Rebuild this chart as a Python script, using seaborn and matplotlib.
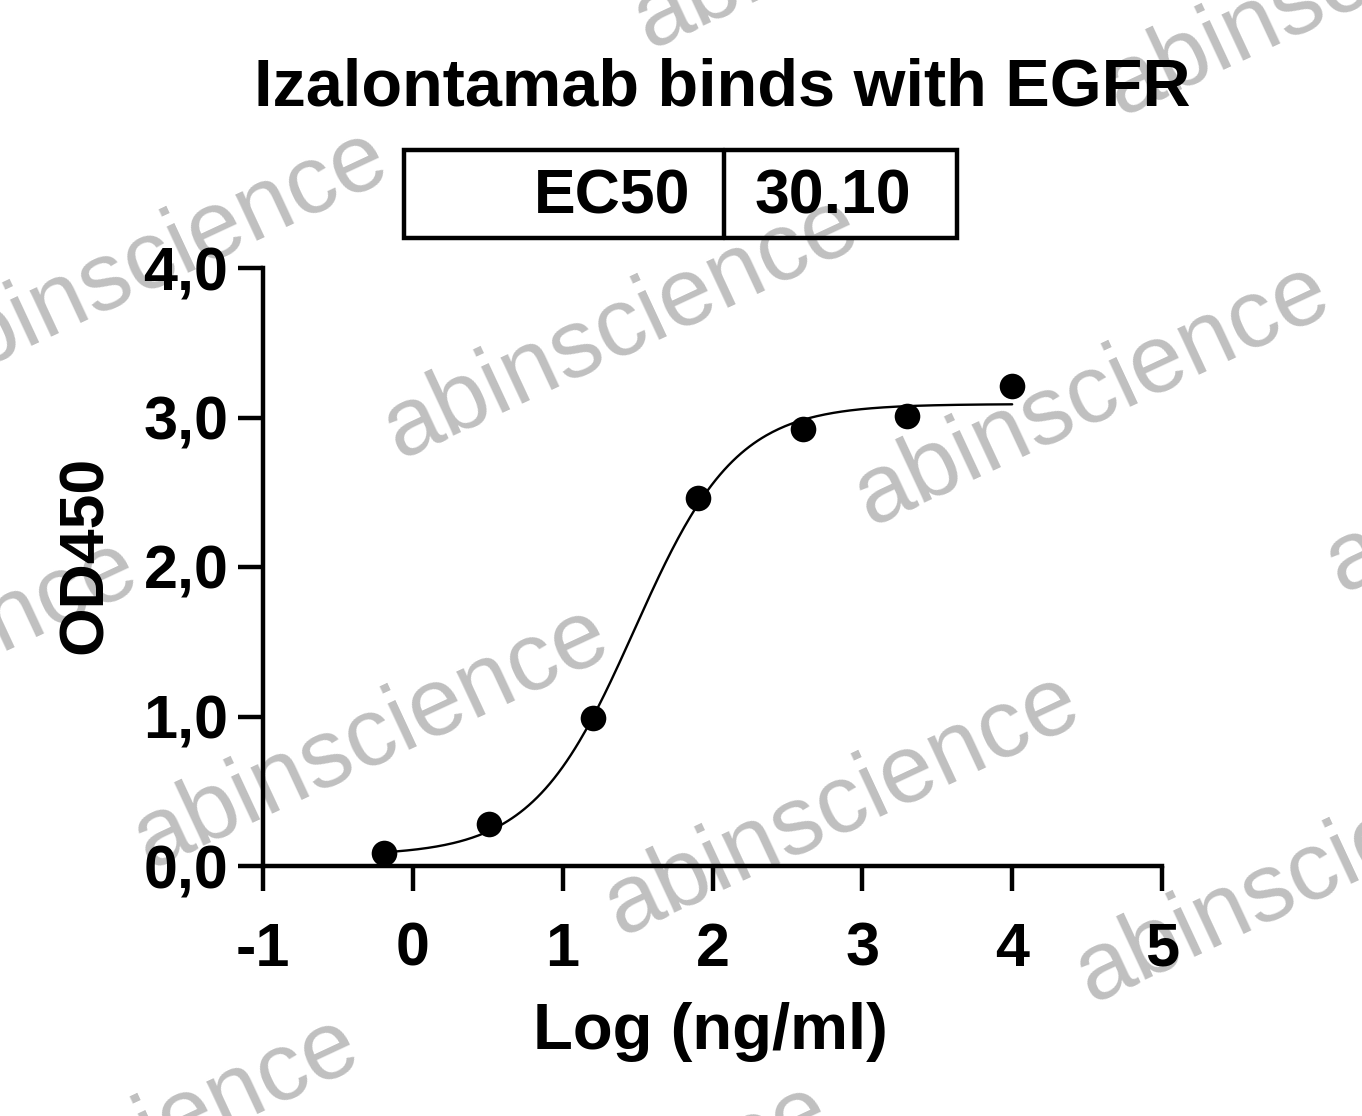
"""Courbe de liaison Izalontamab / EGFR (ELISA, OD450)."""

import numpy as np
import pandas as pd
import matplotlib

matplotlib.use("Agg")
import matplotlib.pyplot as plt
from matplotlib.lines import Line2D
from matplotlib.patches import Rectangle
from matplotlib.ticker import FuncFormatter, MultipleLocator
import seaborn as sns

# donnees
conc_ng_ml = [0.64, 3.2, 16, 80, 400, 2000, 10000]
od450 = [0.09, 0.28, 0.99, 2.46, 2.92, 3.01, 3.21]

# parametres du fit 4PL
ec50 = 30.10
fit_bottom = 0.07
fit_top = 3.09
fit_hill = 1.28

title = "Izalontamab binds with EGFR"
x_label = "Log (ng/ml)"
y_label = "OD450"
watermark = "abinscience"

W, H = 1362, 1116


def fx(x):
    return x / W


def fy(y):
    return 1 - y / H


def four_pl(logx):
    return fit_bottom + (fit_top - fit_bottom) / (1 + 10 ** ((np.log10(ec50) - logx) * fit_hill))


def main():
    sns.set_theme(style="ticks")
    plt.rcParams["font.family"] = ["Liberation Sans", "DejaVu Sans"]
    for key in ["text.color", "axes.labelcolor", "xtick.color", "ytick.color", "axes.edgecolor"]:
        plt.rcParams[key] = "black"

    points = pd.DataFrame({"logc": np.log10(conc_ng_ml), "od": od450})
    xs = np.linspace(points["logc"].min(), points["logc"].max(), 300)
    curve = pd.DataFrame({"logc": xs, "od": four_pl(xs)})

    fig = plt.figure(figsize=(W / 100, H / 100), dpi=100)
    fig.patch.set_facecolor("white")
    ax = fig.add_axes([fx(263), fy(866), 899 / W, 598 / H])
    ax.set_facecolor("white")

    sns.lineplot(data=curve, x="logc", y="od", ax=ax, color="black", linewidth=1.7)
    sns.scatterplot(data=points, x="logc", y="od", ax=ax, color="black", s=340,
                    edgecolor="black", linewidth=0, clip_on=False, zorder=5)

    ax.set_xlim(-1, 5)
    ax.set_ylim(0, 4)
    ax.xaxis.set_major_locator(MultipleLocator(1))
    ax.yaxis.set_major_locator(MultipleLocator(1))
    ax.yaxis.set_major_formatter(FuncFormatter(lambda v, _: f"{v:.1f}".replace(".", ",")))
    ax.xaxis.set_major_formatter(FuncFormatter(lambda v, _: f"{v:.0f}"))

    sns.despine(ax=ax)
    for side in ["left", "bottom"]:
        ax.spines[side].set_linewidth(3.2)
        ax.spines[side].set_color("black")
    ax.tick_params(axis="both", direction="out", length=18, width=3.2,
                   color="black", labelcolor="black")
    ax.tick_params(axis="y", pad=7, labelsize=44)
    ax.tick_params(axis="x", pad=22, labelsize=44)
    for lab in ax.get_xticklabels() + ax.get_yticklabels():
        lab.set_fontweight("bold")

    ax.set_xlabel(x_label, fontsize=47, fontweight="bold", color="black")
    ax.set_ylabel(y_label, fontsize=45, fontweight="bold", color="black")
    ax.xaxis.set_label_coords(0.498, -0.227)
    ax.yaxis.set_label_coords(-0.165, 0.52)

    fig.text(fx(722), fy(105), title, ha="center", va="baseline",
             fontsize=48, fontweight="bold", color="black")

    # petit tableau EC50
    fig.patches.append(Rectangle((fx(404), fy(238)), (957 - 404) / W, (238 - 150) / H,
                                 transform=fig.transFigure, fill=False,
                                 edgecolor="black", linewidth=3.2))
    fig.lines.append(Line2D([fx(724), fx(724)], [fy(150), fy(238)],
                            transform=fig.transFigure, color="black", linewidth=3.2))
    fig.text(fx(690), fy(214), "EC50", ha="right", va="baseline",
             fontsize=45, fontweight="bold", color="black")
    fig.text(fx(755), fy(214), f"{ec50:.2f}", ha="left", va="baseline",
             fontsize=45, fontweight="bold", color="black")

    # filigrane
    base = np.array([372, 738])
    step_h = np.array([471, 67])
    step_v = np.array([250, -410])
    for i in range(-3, 5):
        for j in range(-3, 4):
            cx, cy = base + i * step_h + j * step_v
            if -350 < cx < W + 350 and -200 < cy < H + 200:
                fig.text(fx(cx), fy(cy), watermark, rotation=25, ha="center",
                         va="center", rotation_mode="anchor", fontsize=70,
                         color="black", alpha=0.25, zorder=10)

    fig.savefig("out.png", dpi=100)
    plt.close(fig)


if __name__ == "__main__":
    main()
